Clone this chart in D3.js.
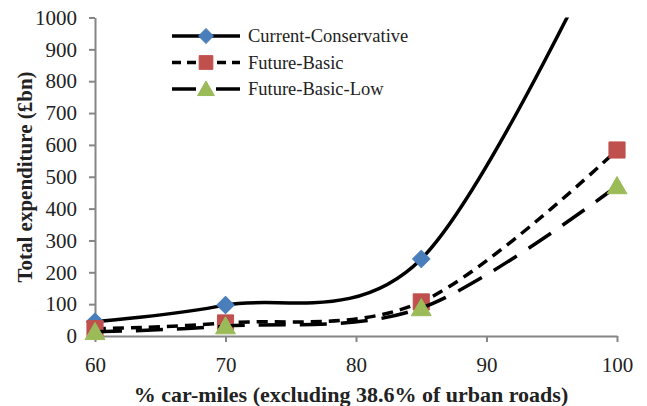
<!DOCTYPE html>
<html>
<head>
<meta charset="utf-8">
<script src="https://cdn.jsdelivr.net/npm/d3@7"></script>
<style>
  body { margin: 0; background: #fff; }
  svg { display: block; font-family: "Liberation Serif", "Times New Roman", serif; }
</style>
</head>
<body>
<div id="chart"></div>
<script>
// data
const xValues = [60, 70, 85, 100];
const currentConservative = [45, 97, 242, 1320];
const futureBasic = [23, 41, 107, 584];
const futureBasicLow = [13, 31, 88, 471];
const seriesNames = ["Current-Conservative", "Future-Basic", "Future-Basic-Low"];
const xTicks = [60, 70, 80, 90, 100];
const yTicks = [0, 100, 200, 300, 400, 500, 600, 700, 800, 900, 1000];

const width = 647, height = 406;

const svg = d3.select("#chart")
    .append("svg")
    .attr("width", width)
    .attr("height", height);

const x = d3.scaleLinear().domain([60, 100]).range([95, 617]);
const y = d3.scaleLinear().domain([0, 1000]).range([336, 17.5]);

// clip lines at the top of the plot
svg.append("clipPath")
    .attr("id", "plotclip")
  .append("rect")
    .attr("x", 0).attr("y", y(1000))
    .attr("width", width).attr("height", height);

// Y axis
const yAxis = svg.append("g")
    .attr("transform", `translate(${x(60)},0)`)
    .call(d3.axisLeft(y).tickValues(yTicks).tickFormat(d3.format("d"))
      .tickSize(6).tickPadding(12).tickSizeOuter(0));
// X axis
const xAxis = svg.append("g")
    .attr("transform", `translate(0,${y(0)})`)
    .call(d3.axisBottom(x).tickValues(xTicks).tickFormat(d3.format("d"))
      .tickSize(6).tickPadding(15).tickSizeOuter(0));

[xAxis, yAxis].forEach(a => {
  a.select(".domain").attr("stroke", "#868686").attr("stroke-width", 2);
  a.selectAll(".tick line").attr("stroke", "#868686").attr("stroke-width", 2);
  a.selectAll(".tick text")
    .attr("fill", "#222")
    .style("font-size", "21px")
    .style("font-family", "'Liberation Serif', serif");
});

// axis titles
svg.append("text")
    .attr("x", 351)
    .attr("y", 402)
    .attr("text-anchor", "middle")
    .style("font-size", "22px")
    .style("font-weight", "bold")
    .attr("fill", "#222")
    .text("% car-miles (excluding 38.6% of urban roads)");

svg.append("text")
    .attr("transform", `translate(32,177) rotate(-90)`)
    .attr("text-anchor", "middle")
    .style("font-size", "21px")
    .style("font-weight", "bold")
    .attr("fill", "#222")
    .text("Total expenditure (£bn)");

const line = d3.line()
    .x(d => x(d[0]))
    .y(d => y(d[1]))
    .curve(d3.curveCardinal.tension(0));

const series = [
  { name: seriesNames[0], values: currentConservative, dash: null, legendDash: null,
    color: "#4a7ebb", shape: "diamond" },
  { name: seriesNames[1], values: futureBasic, dash: "11,7", legendDash: "9,6",
    color: "#c0504d", shape: "square" },
  { name: seriesNames[2], values: futureBasicLow, dash: "27,14", legendDash: "24,20",
    color: "#9bbb59", shape: "triangle" }
];

// marker shape, scaled by k (1 for plot, smaller for legend)
function markerPath(shape, k) {
  if (shape === "square") return d3.symbol(d3.symbolSquare, 260 * k * k)();
  if (shape === "triangle") return d3.symbol(d3.symbolTriangle, 170 * k * k)();
  return d3.symbol(d3.symbolSquare, 150 * k * k)();
}
function markerTransform(shape, k) {
  if (shape === "diamond") return " rotate(45)";
  if (shape === "triangle") return ` translate(0,${2 * k})`;
  return "";
}

series.forEach(s => {
  const pts = xValues.map((v, i) => [v, s.values[i]]);
  svg.append("path")
    .datum(pts)
    .attr("clip-path", "url(#plotclip)")
    .attr("fill", "none")
    .attr("stroke", "#000")
    .attr("stroke-width", 3.5)
    .attr("stroke-dasharray", s.dash)
    .attr("d", line);

  svg.selectAll(null)
    .data(pts.filter(d => d[1] <= 1000))
    .enter().append("path")
    .attr("transform", d => `translate(${x(d[0])},${y(d[1])})` + markerTransform(s.shape, 1))
    .attr("d", markerPath(s.shape, 1))
    .attr("fill", s.color)
    .attr("stroke", s.color)
    .attr("stroke-width", 1)
    .attr("stroke-linejoin", "round");
});

// legend
const legend = svg.append("g").attr("transform", "translate(172,36)");
series.forEach((s, i) => {
  const g = legend.append("g").attr("transform", `translate(0,${i * 26.5})`);
  g.append("line")
    .attr("x1", 0).attr("x2", 68)
    .attr("stroke", "#000")
    .attr("stroke-width", 3.5)
    .attr("stroke-dasharray", s.legendDash);
  g.append("path")
    .attr("transform", "translate(34,0)" + markerTransform(s.shape, 0.85))
    .attr("d", markerPath(s.shape, 0.85))
    .attr("fill", s.color)
    .attr("stroke", s.color)
    .attr("stroke-linejoin", "round");
  g.append("text")
    .attr("x", 76)
    .attr("y", 6)
    .style("font-size", "18.5px")
    .attr("fill", "#222")
    .text(s.name);
});
</script>
</body>
</html>
